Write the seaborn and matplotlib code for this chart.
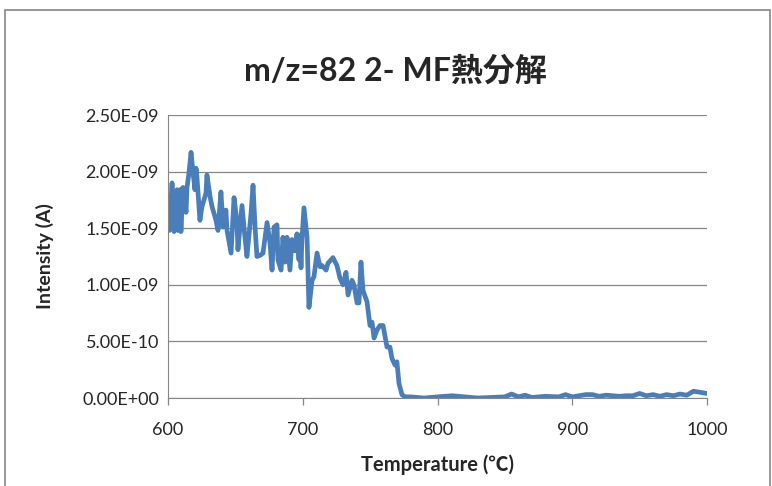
import matplotlib
matplotlib.use("Agg")
import matplotlib.pyplot as plt
from matplotlib.patches import Rectangle
from matplotlib.ticker import FuncFormatter
import numpy as np
import pandas as pd
import seaborn as sns

# temperature (C) and ion current (A)
temp_main = [601, 603, 604.5, 606.7, 607.4, 608.9, 609.6, 611.1, 613.4, 614.1,
             615.6, 617.1, 618.6, 620.0, 620.8, 621.5, 623.7, 625.2, 628.2, 628.9,
             631.2, 632.7, 635.6, 637.1, 639.3, 640.8, 643.0, 643.8, 646.8, 649.0,
             651.2, 651.9, 654.9, 657.1, 658.6, 661.6, 663.1, 664.6, 666.0, 668.3,
             670.5, 673.5, 675.7, 677.2, 678.7, 680.9, 681.6, 683.9, 685.3, 686.8,
             688.3, 690.5, 692.0, 694.2, 695.7, 697.2, 698.0, 698.7, 699.4, 700.9,
             703.2, 704.6, 706.9, 708.3, 710.6, 712.8, 714.3, 717.3, 718.7, 722.4,
             725.4, 727.6, 729.9, 732.1, 733.6, 736.5, 738.0, 740.3, 741.7, 743.2,
             744.7, 747.7, 749.9, 751.4, 752.9, 755.1, 757.3, 759.6, 762.5, 764.7,
             766.2, 768.5, 769.9, 771.4, 773.6, 775.9]
intensity_main = [1.48, 1.90, 1.47, 1.84, 1.48, 1.84, 1.47, 1.86, 1.64, 1.86,
                  1.99, 2.17, 1.99, 1.84, 2.03, 1.95, 1.57, 1.69, 1.81, 1.97,
                  1.78, 1.69, 1.57, 1.48, 1.82, 1.51, 1.66, 1.48, 1.28, 1.77,
                  1.55, 1.31, 1.70, 1.42, 1.25, 1.63, 1.88, 1.51, 1.25, 1.26,
                  1.28, 1.55, 1.37, 1.13, 1.51, 1.53, 1.22, 1.13, 1.42, 1.20,
                  1.42, 1.13, 1.40, 1.30, 1.45, 1.22, 1.44, 1.15, 1.40, 1.68,
                  1.42, 0.80, 1.04, 1.07, 1.28, 1.16, 1.17, 1.13, 1.19, 1.24,
                  1.17, 1.06, 1.00, 1.11, 0.91, 1.04, 1.00, 0.84, 0.84, 1.20,
                  0.95, 0.85, 0.64, 0.67, 0.53, 0.60, 0.64, 0.64, 0.45, 0.45,
                  0.35, 0.29, 0.32, 0.13, 0.03, 0.01]
temp_tail = [780, 790, 800, 811, 820, 830, 840, 850, 855, 860, 865, 870, 880,
             890, 895, 900, 905, 910, 915, 920, 925, 930, 935, 940, 945, 950,
             955, 960, 965, 970, 975, 980, 985, 990, 995, 1000]
intensity_tail = [0.01, 0.00, 0.01, 0.02, 0.01, 0.00, 0.005, 0.01, 0.035, 0.01,
                  0.025, 0.005, 0.015, 0.01, 0.03, 0.01, 0.02, 0.03, 0.03, 0.015,
                  0.025, 0.02, 0.015, 0.02, 0.02, 0.04, 0.02, 0.03, 0.015, 0.03,
                  0.02, 0.035, 0.025, 0.06, 0.05, 0.04]

df = pd.DataFrame({"T": temp_main + temp_tail,
                   "I": np.array(intensity_main + intensity_tail) * 1e-9})

sns.set_style("white")
fam = ["Lato", "Noto Sans CJK JP", "DejaVu Sans"]
plt.rcParams["font.family"] = fam

fig = plt.figure(figsize=(7.72, 4.86), dpi=100)
ax = fig.add_axes([168 / 772, 88 / 486, 539 / 772, 283 / 486])

sns.lineplot(data=df, x="T", y="I", ax=ax, color="#4a7ebb", linewidth=3.4,
             solid_joinstyle="round", solid_capstyle="round")

ax.set_xlim(600, 1000)
ax.set_ylim(0, 2.5e-9)
ax.set_xticks([600, 700, 800, 900, 1000])
ax.set_yticks(np.arange(0, 2.51e-9, 0.5e-9))
ax.yaxis.set_major_formatter(FuncFormatter(lambda v, p: "%.2E" % v))
ax.grid(axis="y", color="#868686", linewidth=0.9)
ax.set_axisbelow(True)
for side in ["top", "right"]:
    ax.spines[side].set_visible(False)
ax.spines["left"].set_color("#868686")
ax.spines["bottom"].set_color("#868686")
ax.tick_params(axis="x", bottom=True, direction="out", length=5, width=0.9,
               color="#868686", labelsize=13, pad=12)
ax.tick_params(axis="y", left=False, labelsize=13, pad=3)

ax.set_xlabel("Temperature (℃)", fontsize=14.5, fontweight="bold", labelpad=12)
ax.set_ylabel("Intensity (A)", fontsize=14, fontweight="bold", labelpad=20)
fig.text(395 / 772, 1 - 70 / 486, "m/z=82 2- MF熱分解", ha="center", va="center",
         fontsize=23, fontweight="bold", family=fam)

# chart area border
fig.patches.append(Rectangle((5 / 772, -0.05), 765 / 772, 1.05 - 10 / 486,
                             transform=fig.transFigure, fill=False,
                             edgecolor="#868686", linewidth=1.2))

fig.savefig("out.png", dpi=100)
